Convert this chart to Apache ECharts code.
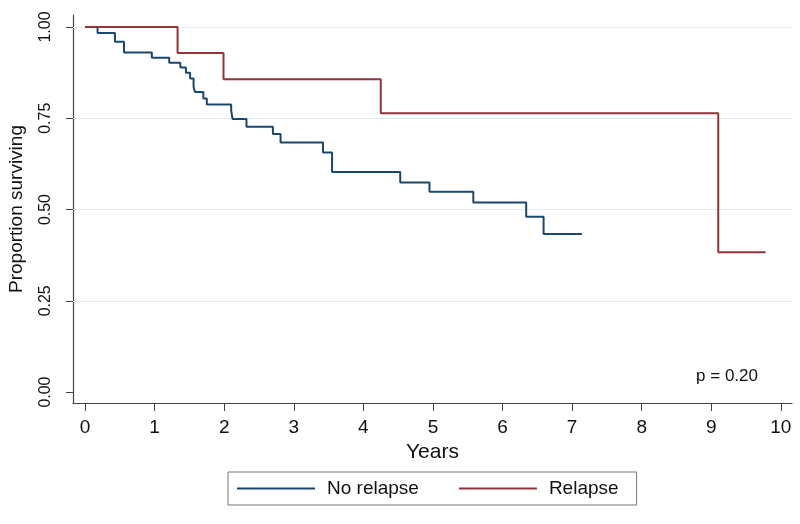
<!DOCTYPE html>
<html><head><meta charset="utf-8">
<script src="https://cdn.jsdelivr.net/npm/echarts@6/dist/echarts.min.js"></script>
<style>html,body{margin:0;padding:0;background:#fff}#c{width:800px;height:524px}</style>
</head><body><div id="c"></div>
<script>
const seriesNames = ['No relapse', 'Relapse'];
const noRelapseYears = [0, 0.18, 0.43, 0.56, 0.96, 1.21, 1.37, 1.45, 1.51, 1.56, 1.58, 1.70, 1.75, 2.10, 2.12, 2.32, 2.70, 2.81, 3.42, 3.55, 4.53, 4.95, 5.58, 6.34, 6.59, 7.14];
const noRelapseSurv  = [1, 0.984, 0.960, 0.930, 0.916, 0.902, 0.889, 0.875, 0.859, 0.836, 0.822, 0.804, 0.788, 0.771, 0.748, 0.727, 0.707, 0.684, 0.656, 0.603, 0.574, 0.549, 0.519, 0.480, 0.433, 0.433];
const relapseYears = [0, 1.33, 1.99, 4.25, 9.10, 9.78];
const relapseSurv  = [1, 0.929, 0.857, 0.764, 0.383, 0.383];
const xTicks = [0, 1, 2, 3, 4, 5, 6, 7, 8, 9, 10];
const yTicks = [0, 0.25, 0.5, 0.75, 1];
const yGrid = [0.25, 0.5, 0.75, 1];
const pText = 'p = 0.20';

const font = 'Liberation Sans, Arial, sans-serif';
const axisCol = '#444';
const chart = echarts.init(document.getElementById('c'), null, {renderer: 'canvas'});
const zip = (a, b) => a.map((v, i) => [v, b[i]]);
chart.setOption({
  animation: false,
  backgroundColor: '#fff',
  grid: {left: 73, right: 8, top: 15, bottom: 121, containLabel: false, outerBoundsMode: 'none'},
  xAxis: {
    type: 'value', min: -0.173, max: 10.16,
    name: 'Years', nameLocation: 'middle', nameGap: 36,
    nameTextStyle: {fontFamily: font, fontSize: 21, color: '#111'},
    axisLine: {show: true, onZero: false, lineStyle: {color: axisCol, width: 1.2}},
    axisTick: {show: true, length: 8, customValues: xTicks, lineStyle: {color: axisCol}},
    axisLabel: {customValues: xTicks, margin: 15, fontFamily: font, fontSize: 19, color: '#111'},
    splitLine: {show: false}
  },
  yAxis: {
    type: 'value', min: -0.03, max: 1.033,
    name: 'Proportion surviving', nameLocation: 'middle', nameGap: 47, nameRotate: 90,
    nameTextStyle: {fontFamily: font, fontSize: 19, color: '#111'},
    axisLine: {show: true, onZero: false, lineStyle: {color: axisCol, width: 1.2}},
    axisTick: {show: true, length: 7, customValues: yTicks, lineStyle: {color: axisCol}},
    axisLabel: {customValues: yTicks, rotate: 90, margin: 19, fontFamily: font, fontSize: 16, color: '#111',
      formatter: v => Number(v).toFixed(2)},
    splitLine: {show: false}
  },
  legend: {
    data: seriesNames,
    left: 228, top: 472,
    padding: [7, 18, 7, 9],
    borderColor: '#777', borderWidth: 1,
    icon: 'rect', itemWidth: 78, itemHeight: 2, itemGap: 40,
    textStyle: {fontFamily: font, fontSize: 19, color: '#111', padding: [0, 0, 0, 7]}
  },
  graphic: [{
    type: 'text', right: 42, top: 368,
    style: {text: pText, font: '17px ' + font, fill: '#111'}
  }],
  series: [
    {name: seriesNames[0], type: 'line', step: 'end', showSymbol: false, symbol: 'none',
     data: zip(noRelapseYears, noRelapseSurv), lineStyle: {color: '#1a476f', width: 2}, itemStyle: {color: '#1a476f'}, z: 2,
     markLine: {silent: true, symbol: 'none', label: {show: false}, animation: false, z: 1,
       lineStyle: {color: '#e3edef', width: 1.2, type: 'solid'},
       data: yGrid.map(v => ({yAxis: v}))}},
    {name: seriesNames[1], type: 'line', step: 'end', showSymbol: false, symbol: 'none',
     data: zip(relapseYears, relapseSurv), lineStyle: {color: '#90353b', width: 2}, itemStyle: {color: '#90353b'}, z: 3}
  ]
});
</script></body></html>
